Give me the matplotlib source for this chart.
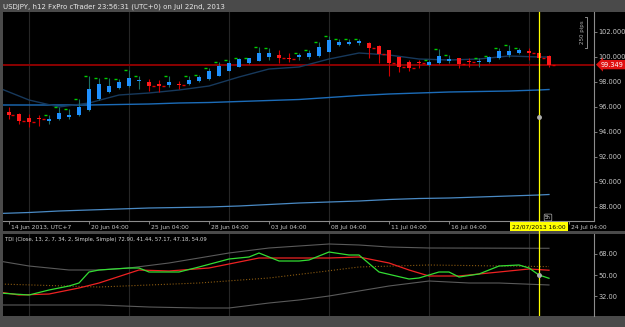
import matplotlib
matplotlib.use("Agg")
import matplotlib.pyplot as plt
import matplotlib.transforms as mtransforms
from matplotlib.patches import Rectangle
import numpy as np

# USDJPY h12 candles, index 0 = 14 Jun 2013 04:00 (UTC+7), weekends skipped
opens = [95.55, 95.39, 95.07, 95.07, 94.83, 94.99, 95.15, 95.31, 95.70, 96.58,
         97.14, 97.45, 97.61, 98.01, 97.93, 97.77, 97.69, 97.77, 97.77, 98.01,
         98.17, 98.41, 98.81, 99.20, 99.52, 99.68, 100.00, 100.16, 99.92, 100.00,
         100.00, 100.08, 100.40, 100.95, 101.03, 101.11, 101.11, 100.87, 100.48, 100.00,
         99.60, 99.60, 99.36, 99.52, 99.68, 99.84, 99.68, 99.60, 99.60, 99.92,
         100.16, 100.32, 100.48, 100.32, 100.08]
highs = [95.94, 95.47, 95.39, 95.31, 95.31, 95.94, 95.78, 96.58, 98.41, 98.25,
         98.25, 98.17, 98.89, 98.41, 98.17, 98.09, 98.41, 98.01, 98.41, 98.49,
         99.12, 99.60, 99.76, 99.92, 99.92, 100.80, 100.72, 100.56, 100.32, 100.32,
         100.56, 101.19, 101.67, 101.43, 101.43, 101.43, 101.19, 100.95, 100.56, 100.00,
         99.76, 99.76, 99.76, 100.64, 100.16, 99.92, 99.92, 99.92, 100.08, 100.72,
         100.95, 100.72, 100.72, 100.40, 100.16]
lows = [94.99, 94.59, 94.35, 94.43, 94.59, 94.95, 94.99, 95.23, 95.62, 96.50,
        97.06, 97.37, 97.55, 97.37, 97.22, 97.14, 97.53, 97.37, 97.69, 97.93,
        98.09, 98.41, 98.81, 99.20, 99.44, 99.66, 99.76, 99.52, 99.60, 99.76,
        99.84, 100.00, 100.35, 100.87, 100.95, 100.95, 99.92, 99.52, 98.41, 98.73,
        98.81, 99.12, 99.28, 99.44, 99.52, 99.05, 99.20, 99.20, 99.52, 99.84,
        100.00, 100.24, 99.76, 99.76, 99.20]
closes = [95.31, 94.83, 94.75, 94.99, 94.99, 95.47, 95.31, 95.94, 97.37, 97.77,
          97.61, 97.93, 98.25, 98.12, 97.61, 97.61, 97.93, 97.69, 98.09, 98.33,
          98.81, 99.20, 99.52, 99.76, 99.84, 100.32, 100.32, 99.92, 99.84, 100.16,
          100.32, 100.72, 101.35, 101.19, 101.19, 101.27, 100.72, 100.24, 99.52, 99.20,
          99.12, 99.52, 99.60, 100.00, 99.84, 99.44, 99.60, 99.68, 100.00, 100.40,
          100.40, 100.56, 100.32, 99.92, 99.349]
last_price = 99.349

# moving averages on the price panel (read every 3 bars)
ma_idx = [-1, 2, 5, 8, 11, 14, 17, 20, 23, 26, 29, 32, 35, 38, 41, 44, 47, 50, 53, 54]
ma_fast = [97.48, 96.52, 95.96, 96.28, 96.92, 97.08, 97.32, 97.64, 98.36, 99.00,
           99.16, 99.80, 100.28, 100.12, 99.80, 99.72, 99.80, 100.04, 99.96, 99.96]
ma_slow = [96.12, 96.12, 96.12, 96.12, 96.16, 96.20, 96.28, 96.32, 96.40, 96.48,
           96.56, 96.72, 96.88, 97.00, 97.08, 97.16, 97.20, 97.24, 97.32, 97.36]
ma_low = [87.44, 87.52, 87.64, 87.72, 87.80, 87.88, 87.92, 87.96, 88.04, 88.16,
          88.28, 88.36, 88.44, 88.56, 88.64, 88.68, 88.76, 88.84, 88.92, 88.96]

# TDI lines
tdi_green_idx = [-1, 2, 4, 6, 7, 8, 9, 12, 13, 14, 17, 19, 22, 24, 25, 27, 29, 30, 32,
                 34, 35, 37, 40, 41, 43, 44, 45, 47, 49, 51, 52, 53, 54]
tdi_green = [34.57, 32.86, 37.14, 40.57, 43.14, 52.57, 54.29, 56.00, 56.00, 52.57,
             52.57, 56.86, 63.71, 65.43, 68.86, 62.00, 62.00, 62.86, 69.71, 67.14,
             67.14, 52.57, 46.57, 47.43, 52.57, 52.57, 48.29, 50.86, 57.71, 58.57,
             56.00, 50.00, 47.18]
tdi_red_idx = [-1, 1, 4, 7, 9, 13, 16, 20, 23, 25, 29, 32, 35, 38, 40, 42, 45, 48, 51, 52, 54]
tdi_red = [35.43, 32.86, 33.71, 38.86, 43.14, 54.29, 53.43, 56.00, 61.14, 64.57,
           64.57, 64.57, 65.43, 60.29, 54.29, 49.14, 49.14, 51.71, 54.29, 55.14, 54.09]
tdi_up_idx = [-1, 2, 6, 9, 12, 16, 19, 22, 26, 29, 32, 35, 38, 42, 54]
tdi_up = [62.0, 57.71, 54.29, 54.29, 56.0, 60.29, 64.57, 68.86, 73.14, 74.86,
          76.57, 75.71, 74.0, 73.14, 72.90]
tdi_dn_idx = [-1, 9, 14, 19, 22, 26, 29, 32, 35, 38, 42, 46, 49, 54]
tdi_dn = [24.29, 24.29, 22.57, 21.71, 21.71, 26.0, 28.57, 32.0, 36.29, 40.57,
          44.86, 43.14, 43.14, 41.44]
tdi_mid_idx = [-1, 9, 14, 19, 26, 31, 35, 42, 54]
tdi_mid = [42.29, 39.71, 41.43, 43.14, 47.43, 52.57, 56.86, 58.57, 57.17]

time_idx = [0, 8, 14, 20, 26, 32, 38, 44, 56]
time_labels = ["14 Jun 2013, UTC+7", "20 Jun 04:00", "25 Jun 04:00", "28 Jun 04:00",
               "03 Jul 04:00", "08 Jul 04:00", "11 Jul 04:00", "16 Jul 04:00",
               "24 Jul 04:00"]
cursor_idx = 53
cursor_label = "22/07/2013 16:00"
tdi_title = "TDI (Close, 13, 2, 7, 34, 2, Simple, Simple) 72.90, 41.44, 57.17, 47.18, 54.09"
title = "USDJPY, h12 FxPro cTrader 23:56:31 (UTC+0) on Jul 22nd, 2013"

W, H = 625, 327
fig = plt.figure(figsize=(W / 100, H / 100), dpi=100, facecolor="#4a4a4a")

# black panels behind the axes (price + time strip, indicator)
fig.patches.append(Rectangle((3 / W, 1 - 231 / H), 622 / W, 219 / H,
                             transform=fig.transFigure, fc="black", ec="none", zorder=-5))
fig.patches.append(Rectangle((3 / W, 1 - 316 / H), 622 / W, 82 / H,
                             transform=fig.transFigure, fc="black", ec="none", zorder=-5))
fig.text(3 / W, 1 - 6.5 / H, title, fontsize=5, color="#e8e8e8", va="center", ha="left")

ax = fig.add_axes([3 / W, 1 - 221 / H, 591 / W, 209 / H], facecolor="black")
ax2 = fig.add_axes([3 / W, 1 - 316 / H, 591 / W, 82 / H], facecolor="black")

for a in (ax, ax2):
    a.set_xlim(-0.6, 58.5)
    for s in a.spines.values():
        s.set_visible(False)
    a.spines["right"].set_visible(True)
    a.spines["right"].set_color("#8c8c8c")
    a.spines["right"].set_linewidth(0.8)
    for gx in [2, 12, 22, 32, 42, 52]:
        a.axvline(gx, color="#262626", lw=0.8, zorder=0)
    a.yaxis.tick_right()
    a.tick_params(axis="y", colors="#8c8c8c", labelcolor="#c8c8c8", labelsize=4.8,
                  length=2, width=0.6, pad=1)

ax.spines["bottom"].set_visible(True)
ax.spines["bottom"].set_color("#8c8c8c")
ax.spines["bottom"].set_linewidth(0.8)
ax.set_ylim(86.84, 103.56)
ax2.set_ylim(14.86, 85.14)

# price panel
o = np.array(opens)
h = np.array(highs)
l = np.array(lows)
c = np.array(closes)
idx = np.arange(len(o))
up = c >= o
bottom = np.minimum(o, c)
height = np.maximum(np.abs(c - o), 0.08)

ax.axhline(last_price, color="#8b0000", lw=1.4, zorder=1)
ax.plot(ma_idx, ma_slow, color="#1c6cb8", lw=1.0, zorder=2)
ax.plot(ma_idx, ma_fast, color="#17395c", lw=1.0, zorder=2)
ax.plot(ma_idx, ma_low, color="#4a8ac4", lw=0.9, zorder=2)

ax.vlines(idx[up], l[up], h[up], color="#1d6e62", lw=0.8, zorder=3)
ax.vlines(idx[~up], l[~up], h[~up], color="#d00000", lw=0.8, zorder=3)
ax.bar(idx[up], height[up], 0.4, bottom=bottom[up], color="#1e90ff", zorder=4)
ax.bar(idx[~up], height[~up], 0.4, bottom=bottom[~up], color="#ff1a1a", zorder=4)
ax.hlines(h[up], idx[up] - 0.55, idx[up] - 0.25, color="#00d000", lw=1.0, zorder=4)
ax.hlines(c[~up], idx[~up] + 0.25, idx[~up] + 0.55, color="#e00000", lw=1.0, zorder=4)

ax.set_yticks(range(88, 103, 2))
ax.set_yticklabels([f"{v:.3f}" for v in range(88, 103, 2)])
ax.set_xticks(time_idx)
ax.set_xticklabels(time_labels)
ax.tick_params(axis="x", colors="#8c8c8c", labelcolor="#c8c8c8", labelsize=4.3,
               length=2, width=0.6, pad=0.6)
offset = mtransforms.ScaledTranslation(2 / 100, 0, fig.dpi_scale_trans)
for lab in ax.get_xticklabels():
    lab.set_horizontalalignment("left")
    lab.set_transform(lab.get_transform() + offset)

# current price tag
tag_tr = mtransforms.blended_transform_factory(ax.transAxes, ax.transData)
ax.text(1.012, last_price, f"{last_price:.3f}", transform=tag_tr, ha="left", va="center",
        fontsize=4.8, color="white", clip_on=False,
        bbox=dict(boxstyle="larrow,pad=0.25", fc="#e01010", ec="none"))

# 250 pips ruler
ax.text(0.9797, 101.96, "250 pips", transform=tag_tr, rotation=90, ha="center",
        va="center", fontsize=4, color="#b0b0b0")
ax.plot([57.6, 57.8, 57.8, 57.6], [103.16, 103.16, 100.68, 100.68], color="#a0a0a0", lw=0.6)

# crosshair
ax.axvline(cursor_idx, ymin=-0.062, ymax=1, color="#ffff00", lw=0.9, clip_on=False, zorder=6)
ax2.axvline(cursor_idx, color="#ffff00", lw=0.9, zorder=6)
ax.plot(cursor_idx, 95.16, "o", ms=2.5, color="#b0b0b0", zorder=7)
ax2.plot(cursor_idx, 50.0, "o", ms=2.5, color="#b0b0b0", zorder=7)
cur_tr = mtransforms.blended_transform_factory(ax.transData, ax.transAxes)
ax.text(cursor_idx, -0.027, cursor_label, transform=cur_tr, ha="center", va="center",
        fontsize=4.3, color="black", clip_on=False, zorder=8,
        bbox=dict(boxstyle="square,pad=0.3", fc="#ffff00", ec="none"))
ax.text(53.9, 87.12, "5h", ha="center", va="center", fontsize=3.3, color="#e0e0e0", zorder=8,
        bbox=dict(boxstyle="round,pad=0.2", fc="black", ec="#b0b0b0", lw=0.5))

# TDI panel
ax2.plot(tdi_up_idx, tdi_up, color="#5a5a5a", lw=0.8)
ax2.plot(tdi_dn_idx, tdi_dn, color="#5a5a5a", lw=0.8)
ax2.plot(tdi_mid_idx, tdi_mid, color="#8a5a10", lw=0.8, ls=":")
ax2.plot(tdi_red_idx, tdi_red, color="#ee2222", lw=0.9)
ax2.plot(tdi_green_idx, tdi_green, color="#33dd33", lw=0.9)
ax2.set_xticks([])
ax2.set_yticks([32, 50, 68])
ax2.set_yticklabels(["32.00", "50.00", "68.00"])
ax2.text(0.004, 0.927, tdi_title, transform=ax2.transAxes, fontsize=3.8, color="#d8d8d8",
         ha="left", va="center")

fig.savefig("out.png", dpi=100, facecolor=fig.get_facecolor())
